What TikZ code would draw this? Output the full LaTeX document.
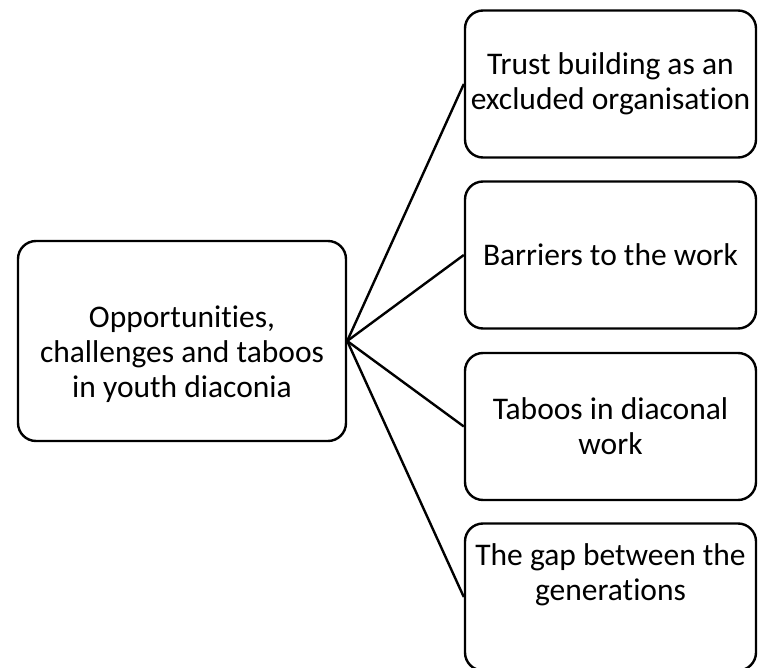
\documentclass[tikz,border=0pt]{standalone}
\usepackage{fontspec}
\setmainfont{Carlito}[Ligatures=NoCommon]
\begin{document}
\begin{tikzpicture}[x=1pt,y=-1pt,
  label font/.style={font=\fontsize{31.5}{35}\selectfont},
  caption/.style={align=center, inner sep=0pt, label font},
  box/.style={draw=black, line width=2.4pt, rounded corners=18pt, fill=white,
    align=center, inner sep=0pt, label font},
  topic/.style={box, minimum width=291pt, minimum height=147pt},
  link/.style={line width=2.4pt}]
  \useasboundingbox (0,0) rectangle (758,668);
  % central topic
  \node[box, minimum width=328pt, minimum height=200pt] (root) at (182,341) {};
  \node[caption] (roottext) at (182,354)
    {Opportunities,\\challenges and taboos\\in youth diaconia};
  % sub-topics
  \node[topic] (t1) at (610.5,84) {Trust building as an\\excluded organisation};
  \node[topic] (t2) at (610.5,255) {Barriers to the work};
  \node[topic] (t3) at (610.5,426.5) {Taboos in diaconal\\work};
  \node[topic] (t4) at (610.5,597) {};
  \node[caption] (t4text) at (610.5,574.5)
    {The gap between the\\generations};
  % connectors
  \foreach \t in {t1,t2,t3,t4}
    \draw[link] (root.east) -- (\t.west);
\end{tikzpicture}
\end{document}
